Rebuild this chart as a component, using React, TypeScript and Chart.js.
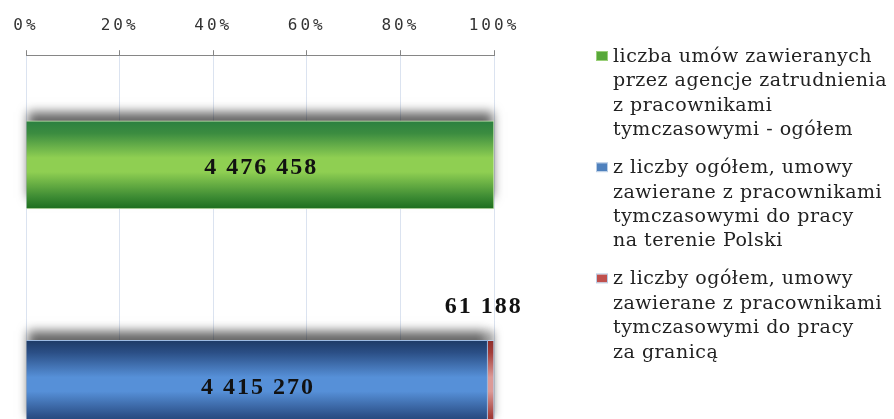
import React, { useEffect, useRef } from 'react';
import { Chart, registerables } from 'chart.js';

Chart.register(...registerables);

// ---- data ----
const categories = ['ogółem', 'w tym'];
const totalValues = [4476458, null];
const domesticValues = [null, 4415270];
const abroadValues = [null, 61188];
const tickLabels = ['0%', '20%', '40%', '60%', '80%', '100%'];
const seriesNames = [
  ['liczba umów zawieranych', 'przez agencje zatrudnienia', 'z pracownikami', 'tymczasowymi - ogółem'],
  ['z liczby ogółem, umowy', 'zawierane z pracownikami', 'tymczasowymi do pracy', 'na terenie Polski'],
  ['z liczby ogółem, umowy', 'zawierane z pracownikami', 'tymczasowymi do pracy', 'za granicą'],
];

// ---- styles ----
const BAR_THICKNESS = 88;
const greenStops = ['#2b8040', '#3b8c40', '#8fcf52', '#8fcf52', '#3e8c34', '#1c6e1e'];
const blueStops = ['#1d3a66', '#2b4f86', '#5690d8', '#5690d8', '#2c5088', '#1d3a66'];
const redStops = ['#8e2e2b', '#a33d39', '#dc9a97', '#dc9a97', '#a33d39', '#8e2e2b'];
const legendBoxColors = ['#58a83a', '#4f81bd', '#c0504d'];
const stopPos = [0, 0.14, 0.42, 0.58, 0.86, 1];

const allSeries = [totalValues, domesticValues, abroadValues];
const categoryTotals = categories.map((_, i) =>
  allSeries.reduce((s, arr) => s + (arr[i] ?? 0), 0)
);
const toPct = (arr: (number | null)[]) =>
  arr.map((v, i) => (v == null ? null : (v / categoryTotals[i]) * 100));

function barGradient(stops: string[]) {
  return (ctx: any) => {
    const chart = ctx.chart;
    const y = chart.scales && chart.scales.y;
    if (ctx.type !== 'data' || !y || !chart.chartArea) return stops[2];
    const c = y.getPixelForValue(ctx.dataIndex);
    const g = chart.ctx.createLinearGradient(0, c - BAR_THICKNESS / 2, 0, c + BAR_THICKNESS / 2);
    stops.forEach((s, i) => g.addColorStop(stopPos[i], s));
    return g;
  };
}

const fmt = (v: number) => String(v).replace(/\B(?=(\d{3})+(?!\d))/g, ' ');

const decorPlugin = {
  id: 'decor',
  beforeDraw(chart: any) {
    (chart.ctx as any).letterSpacing = '3px';
  },
  beforeDatasetsDraw(chart: any) {
    const ctx = chart.ctx;
    (ctx as any).letterSpacing = '0px';
    // soft shadow above each bar (3D effect)
    ctx.save();
    ctx.shadowColor = 'rgba(0,0,0,0.6)';
    ctx.shadowBlur = 10;
    ctx.shadowOffsetY = -10;
    ctx.fillStyle = '#ffffff';
    chart.data.datasets.forEach((_: any, di: number) => {
      chart.getDatasetMeta(di).data.forEach((el: any, i: number) => {
        if (allSeries[di][i] == null) return;
        const left = Math.min(el.x, el.base);
        const w = Math.abs(el.x - el.base);
        ctx.fillRect(left + 1, el.y - el.height / 2 + 1, w - 2, el.height - 2);
      });
    });
    ctx.restore();
  },
  afterDatasetsDraw(chart: any) {
    const ctx = chart.ctx;
    ctx.save();
    // data labels
    ctx.font = 'bold 24px "Liberation Serif"';
    (ctx as any).letterSpacing = '2px';
    ctx.fillStyle = '#111';
    ctx.textAlign = 'center';
    ctx.textBaseline = 'middle';
    chart.data.datasets.forEach((ds: any, di: number) => {
      const meta = chart.getDatasetMeta(di);
      meta.data.forEach((el: any, i: number) => {
        const raw = allSeries[di][i];
        if (raw == null) return;
        const p = el.getCenterPoint();
        const w = Math.abs(el.x - el.base);
        if (w > 60) {
          ctx.fillText(fmt(raw), p.x + 1, p.y + 3);
        } else {
          ctx.fillText(fmt(raw), p.x - 7, el.y - el.height / 2 - 34);
        }
      });
    });
    // legend
    const lx = chart.chartArea.right + 103;
    let ly = 56;
    const lh = 24.4;
    ctx.font = '19px "DejaVu Serif"';
    (ctx as any).letterSpacing = '0.5px';
    ctx.textAlign = 'left';
    seriesNames.forEach((lines, k) => {
      ctx.fillStyle = legendBoxColors[k];
      ctx.fillRect(lx, ly - 4, 10, 8);
      ctx.strokeStyle = k === 0 ? '#9bd07a' : '#b9cde5';
      ctx.lineWidth = 1;
      ctx.strokeRect(lx - 0.5, ly - 4.5, 11, 9);
      ctx.fillStyle = '#222222';
      lines.forEach((t, j) => {
        ctx.fillText(t, lx + 16, ly + j * lh + 1);
      });
      ly += lines.length * lh + 13.6;
    });
    ctx.restore();
  },
};

export default function App() {
  const ref = useRef<HTMLCanvasElement>(null);
  useEffect(() => {
    if (!ref.current) return;
    const chart = new Chart(ref.current, {
      type: 'bar',
      data: {
        labels: categories,
        datasets: [
          {
            label: seriesNames[0].join(' '),
            data: toPct(totalValues),
            backgroundColor: barGradient(greenStops),
            borderColor: '#cfe6b8',
            borderWidth: 1,
            barThickness: BAR_THICKNESS,
          },
          {
            label: seriesNames[1].join(' '),
            data: toPct(domesticValues),
            backgroundColor: barGradient(blueStops),
            borderColor: '#9dbbe3',
            borderWidth: 1,
            barThickness: BAR_THICKNESS,
          },
          {
            label: seriesNames[2].join(' '),
            data: toPct(abroadValues),
            backgroundColor: barGradient(redStops),
            borderColor: '#b9cde5',
            borderWidth: 1,
            barThickness: BAR_THICKNESS,
          },
        ],
      },
      options: {
        indexAxis: 'y',
        animation: false,
        responsive: false,
        maintainAspectRatio: false,
        layout: { padding: { top: 1, left: 26, right: 400, bottom: 0 } },
        plugins: { legend: { display: false }, tooltip: { enabled: false } },
        scales: {
          x: {
            position: 'top',
            stacked: true,
            min: 0,
            max: 100,
            ticks: {
              stepSize: 20,
              padding: 15,
              color: '#333333',
              font: { family: '"DejaVu Sans Mono"', size: 16 },
              callback: (v: any) => tickLabels[Math.round(Number(v) / 20)],
            },
            grid: { color: '#dbe3f0', tickColor: '#868686', tickLength: 5, lineWidth: 1 },
            border: { color: '#868686', width: 1 },
          },
          y: {
            stacked: true,
            display: false,
          },
        },
      },
      plugins: [decorPlugin],
    });
    return () => chart.destroy();
  }, []);
  return (
    <div style={{ position: 'fixed', left: 0, top: 0, width: 894, height: 419, overflow: 'hidden', background: '#fff' }}>
      <canvas ref={ref} width={894} height={494} style={{ display: 'block', width: 894, height: 494 }} />
    </div>
  );
}
